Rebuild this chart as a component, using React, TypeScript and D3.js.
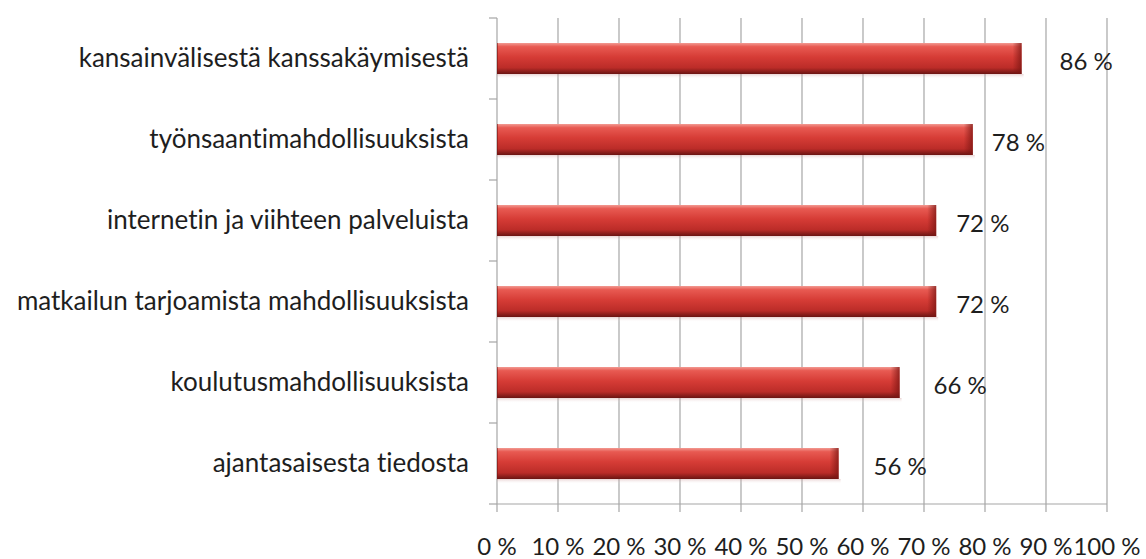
import React from "react";
import * as d3 from "d3";

const categories = [
  "kansainvälisestä kanssakäymisestä",
  "työnsaantimahdollisuuksista",
  "internetin ja viihteen palveluista",
  "matkailun tarjoamista mahdollisuuksista",
  "koulutusmahdollisuuksista",
  "ajantasaisesta tiedosta",
];
const values = [86, 78, 72, 72, 66, 56];
const xTicks = [0, 10, 20, 30, 40, 50, 60, 70, 80, 90, 100];
// label gaps after bar end (layout styling)
const labelGap = [38, 19, 20, 20, 34, 35];

const W = 1146;
const H = 559;
const FONT = "Lato, 'Open Sans', sans-serif";
const TEXT_STYLE = { fontVariantLigatures: "none" as const };

export default function App() {
  const x = d3.scaleLinear().domain([0, 100]).range([497, 1107]);
  const y = d3.scaleBand<string>().domain(categories).range([18, 504]);
  const band = y.bandwidth();
  const barH = 31;
  const gridColor = "#a6a6a6";
  const fmt = (v: number) => `${v}\u00a0%`;

  return (
    <svg width={W} height={H} style={{ position: "absolute", left: 0, top: 0, background: "#fff" }}>
      <defs>
        <linearGradient id="barGrad" x1="0" y1="0" x2="0" y2="1">
          <stop offset="0%" stopColor="#f29a92" />
          <stop offset="12%" stopColor="#e85a52" />
          <stop offset="45%" stopColor="#d63c36" />
          <stop offset="80%" stopColor="#bb2c28" />
          <stop offset="100%" stopColor="#6a1412" />
        </linearGradient>
        <linearGradient id="endGrad" x1="0" y1="0" x2="1" y2="0">
          <stop offset="0%" stopColor="#7a1512" stopOpacity="0" />
          <stop offset="100%" stopColor="#7a1512" stopOpacity="0.75" />
        </linearGradient>
        <linearGradient id="shadowGrad" x1="0" y1="0" x2="0" y2="1">
          <stop offset="0%" stopColor="#c08080" stopOpacity="0.35" />
          <stop offset="100%" stopColor="#ffffff" stopOpacity="0" />
        </linearGradient>
      </defs>

      {/* gridlines */}
      {xTicks.slice(1).map((t) => (
        <line key={"g" + t} x1={x(t)} x2={x(t)} y1={18} y2={504} stroke={gridColor} strokeWidth={1.2} />
      ))}
      {/* left axis */}
      <line x1={x(0)} x2={x(0)} y1={18} y2={504} stroke={gridColor} strokeWidth={1.2} />
      {[0, 1, 2, 3, 4, 5, 6].map((i) => {
        const yy = 18 + i * band;
        return <line key={"yt" + i} x1={x(0) - 8} x2={x(0)} y1={yy} y2={yy} stroke={gridColor} strokeWidth={1.2} />;
      })}
      {/* bottom axis */}
      <line x1={x(0)} x2={x(100)} y1={504} y2={504} stroke={gridColor} strokeWidth={1.2} />
      {xTicks.map((t) => (
        <line key={"xt" + t} x1={x(t)} x2={x(t)} y1={504} y2={512} stroke={gridColor} strokeWidth={1.2} />
      ))}

      {/* bars */}
      {categories.map((c, i) => {
        const cy = (y(c) as number) + band / 2;
        const x0 = x(0);
        const x1 = x(values[i]);
        return (
          <g key={c}>
            <rect x={x0} y={cy + barH / 2} width={x1 - x0 + 2} height={5} fill="url(#shadowGrad)" />
            <rect x={x0} y={cy - barH / 2} width={x1 - x0} height={barH} fill="url(#barGrad)" />
            <rect x={x1 - 9} y={cy - barH / 2} width={9} height={barH} fill="url(#endGrad)" />
            <line x1={x0 + 0.5} x2={x0 + 0.5} y1={cy - barH / 2} y2={cy + barH / 2} stroke="#7a1512" strokeOpacity={0.6} />
          </g>
        );
      })}

      {/* category labels */}
      {categories.map((c) => (
        <text
          key={"l" + c}
          x={469}
          y={(y(c) as number) + band / 2}
          dy="0.33em"
          textAnchor="end"
          fontFamily={FONT}
          fontSize={26}
          fill="#1e1e1e"
          style={TEXT_STYLE}
        >
          {c}
        </text>
      ))}

      {/* value labels */}
      {categories.map((c, i) => (
        <text
          key={"v" + c}
          x={x(values[i]) + labelGap[i]}
          y={(y(c) as number) + band / 2 + 3}
          dy="0.35em"
          fontFamily={FONT}
          fontSize={24}
          fill="#1e1e1e"
          style={TEXT_STYLE}
        >
          {fmt(values[i])}
        </text>
      ))}

      {/* x tick labels */}
      {xTicks.map((t) => (
        <text
          key={"xl" + t}
          x={x(t)}
          y={555}
          textAnchor="middle"
          fontFamily={FONT}
          fontSize={24}
          fill="#1e1e1e"
          style={TEXT_STYLE}
        >
          {fmt(t)}
        </text>
      ))}
    </svg>
  );
}
